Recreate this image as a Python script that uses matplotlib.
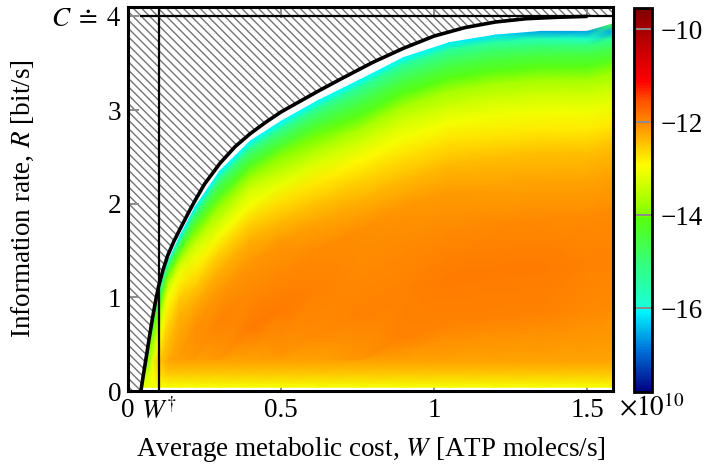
import numpy as np
import matplotlib
matplotlib.use('Agg')
import matplotlib.pyplot as plt
from matplotlib.colors import LinearSegmentedColormap
from matplotlib.patches import Polygon

plt.rcParams['font.family'] = ['Liberation Serif', 'DejaVu Serif']
plt.rcParams['mathtext.fontset'] = 'stix'
plt.rcParams['hatch.linewidth'] = 1.0

# ---------------- data (W in units of 1e10 ATP molecs/s) ----------------
# capacity-cost curve R(W)
curve_W = [0.042, 0.05, 0.06, 0.07, 0.08, 0.09, 0.10, 0.115, 0.13, 0.15, 0.17, 0.20,
           0.22, 0.25, 0.30, 0.35, 0.40, 0.45, 0.50, 0.56, 0.62, 0.70, 0.80, 0.90,
           1.00, 1.10, 1.20, 1.30, 1.40, 1.50]
curve_R = [0.00, 0.17, 0.37, 0.58, 0.78, 0.96, 1.12, 1.30, 1.45, 1.60, 1.73, 1.92,
           2.04, 2.21, 2.43, 2.61, 2.75, 2.87, 2.98, 3.09, 3.20, 3.34, 3.51, 3.66,
           3.79, 3.88, 3.94, 3.975, 3.99, 4.00]
capacity_C = 4.0
W_dagger = 0.10

# heat map: columns in W, rows = depth below the top of the coloured region
heat_W = [0.042, 0.06, 0.08, 0.10, 0.13, 0.17, 0.22, 0.30, 0.40, 0.50, 0.62, 0.75,
          0.90, 1.05, 1.20, 1.35, 1.50, 1.584]
heat_top = [0.00, 0.32, 0.72, 1.05, 1.38, 1.66, 1.97, 2.35, 2.67, 2.88, 3.10, 3.31,
            3.56, 3.72, 3.80, 3.84, 3.84, 3.92]
depth_rows = [0.0, 0.08, 0.16, 0.26, 0.38, 0.52, 0.68, 0.86, 1.06, 1.3, 1.6, 2.0,
              2.5, 3.0, 3.6]
floor_R = 0.32
log_density = [
    [-13.2, -14.0, -15.0, -15.3, -15.8, -16.0, -16.0, -16.0, -16.0, -16.0, -16.0, -16.0, -16.0, -16.1, -16.2, -16.6, -16.6, -14.6],
    [-13.2, -14.0, -14.3, -14.6, -14.6, -14.8, -15.0, -15.2, -15.2, -15.3, -15.3, -15.3, -15.3, -15.3, -15.4, -15.6, -15.8, -16.6],
    [-13.2, -14.0, -13.9, -14.2, -14.0, -14.2, -14.5, -14.6, -14.7, -14.8, -14.8, -14.9, -14.9, -14.9, -14.9, -15.0, -15.0, -15.3],
    [-13.2, -14.0, -13.6, -13.8, -13.4, -13.6, -14.0, -14.2, -14.2, -14.3, -14.4, -14.5, -14.5, -14.5, -14.5, -14.5, -14.5, -14.7],
    [-13.2, -14.0, -13.3, -13.4, -13.0, -13.1, -13.5, -13.8, -13.8, -13.9, -14.0, -14.1, -14.1, -14.1, -14.1, -14.1, -14.1, -14.2],
    [-13.2, -14.0, -13.2, -13.0, -12.8, -12.8, -13.1, -13.4, -13.3, -13.5, -13.6, -13.7, -13.7, -13.7, -13.7, -13.7, -13.7, -13.8],
    [-13.2, -14.0, -13.2, -12.7, -12.6, -12.5, -12.8, -13.0, -13.0, -13.1, -13.2, -13.3, -13.3, -13.35, -13.35, -13.35, -13.35, -13.4],
    [-13.2, -14.0, -13.2, -12.55, -12.45, -12.3, -12.5, -12.6, -12.6, -12.7, -12.8, -12.9, -13.0, -13.0, -13.05, -13.05, -13.05, -13.1],
    [-13.2, -14.0, -13.2, -12.5, -12.3, -12.2, -12.25, -12.3, -12.3, -12.4, -12.5, -12.6, -12.7, -12.7, -12.75, -12.75, -12.75, -12.8],
    [-13.2, -14.0, -13.2, -12.5, -12.25, -12.15, -12.05, -12.1, -12.1, -12.1, -12.2, -12.3, -12.4, -12.4, -12.45, -12.45, -12.45, -12.45],
    [-13.2, -14.0, -13.2, -12.5, -12.25, -12.2, -12.1, -11.95, -12.0, -12.0, -12.0, -12.05, -12.1, -12.15, -12.2, -12.2, -12.2, -12.2],
    [-13.2, -14.0, -13.2, -12.5, -12.25, -12.2, -12.2, -12.1, -11.9, -11.9, -11.95, -12.0, -12.0, -12.0, -12.0, -12.0, -12.0, -12.0],
    [-13.2, -14.0, -13.2, -12.5, -12.25, -12.2, -12.2, -12.2, -12.2, -12.1, -12.0, -11.95, -11.95, -11.9, -11.9, -11.9, -11.95, -11.95],
    [-13.2, -14.0, -13.2, -12.5, -12.25, -12.2, -12.2, -12.2, -12.2, -12.2, -12.2, -12.1, -11.95, -11.95, -11.95, -11.95, -12.0, -12.0],
    [-13.2, -14.0, -13.2, -12.5, -12.25, -12.2, -12.2, -12.2, -12.2, -12.2, -12.2, -12.2, -12.2, -12.2, -12.2, -12.2, -12.2, -12.2],
]
bottom_R = [0.18, 0.04]
bottom_vals = [
    [-13.2, -13.4, -13.0, -12.7] + [-12.5] * 14,
    [-13.2, -13.1] + [-13.0] * 16,
]
cbar_ticks = [-10, -12, -14, -16]
cbar_labels = ['\u221210', '\u221212', '\u221214', '\u221216']
vmin, vmax = -17.8, -9.55
x_ticks = [0, W_dagger, 0.5, 1.0, 1.5]
x_labels = ['0', r'$W^{\dagger}$', '0.5', '1', '1.5']
y_ticks = [0, 1, 2, 3, capacity_C]
y_labels = ['0', '1', '2', '3', r'$C\;\doteq\;4$']
xmax, ytop = 1.584, 4.1

# ---------------- colormap ----------------
cmap = LinearSegmentedColormap.from_list('jetlike', [
    (0.000, (0.00, 0.00, 0.50)),
    (0.110, (0.00, 0.45, 0.85)),
    (0.216, (0.00, 1.00, 1.00)),
    (0.222, (0.10, 1.00, 0.85)),
    (0.330, (0.20, 1.00, 0.50)),
    (0.455, (0.35, 1.00, 0.05)),
    (0.460, (0.50, 1.00, 0.00)),
    (0.590, (1.00, 1.00, 0.00)),
    (0.700, (1.00, 0.55, 0.00)),
    (0.764, (1.00, 0.30, 0.00)),
    (0.810, (1.00, 0.00, 0.00)),
    (0.945, (0.65, 0.00, 0.00)),
    (1.000, (0.50, 0.00, 0.00)),
])

FS = 19.5
fig = plt.figure(figsize=(7.1, 4.67), dpi=100)
ax = fig.add_axes([0.1803, 0.1627, 0.6831, 0.8223])
cax = fig.add_axes([0.893, 0.1606, 0.0254, 0.822])

# hatched infeasible region
hx = [0.0] + curve_W + [xmax, xmax, 0.0]
hy = [0.0] + curve_R + [capacity_C, ytop, ytop]
ax.fill(hx, hy, facecolor='none', edgecolor=(0.45, 0.45, 0.45), hatch='\\\\\\\\',
        linewidth=0, zorder=1)

# heat map mesh
Wn = np.array(heat_W)
topn = np.array(heat_top)
dn = np.array(depth_rows)
Yd = np.maximum(topn[None, :] - dn[:, None], floor_R)
Yb = np.tile(np.array(bottom_R)[:, None], (1, len(Wn)))
Y = np.vstack([Yd, Yb])
X = np.tile(Wn, (Y.shape[0], 1))
Cv = np.vstack([np.array(log_density), np.array(bottom_vals)])
mesh = ax.pcolormesh(X, Y, Cv, shading='gouraud', cmap=cmap, vmin=vmin, vmax=vmax,
                     zorder=2)
clip = Polygon(np.column_stack([curve_W + [xmax, xmax, curve_W[0]],
                                curve_R + [capacity_C, 0.0, 0.0]]),
               closed=True, transform=ax.transData)
mesh.set_clip_path(clip)

# curve and guide lines
ax.plot(curve_W, curve_R, color='black', lw=2.6, zorder=4, solid_capstyle='butt',
        solid_joinstyle='round')
ax.plot([curve_W[0], xmax], [capacity_C, capacity_C], color='black', lw=1.6, zorder=4)
ax.plot([W_dagger, W_dagger], [0, ytop], color='black', lw=1.6, zorder=4)

ax.set_xlim(0, xmax)
ax.set_ylim(0, ytop)
ax.set_xticks(x_ticks)
ax.set_xticklabels(x_labels)
ax.set_yticks(y_ticks)
ax.set_yticklabels(y_labels)
ax.tick_params(direction='in', length=8, width=1.4, color=(0.55, 0.55, 0.55),
               top=True, right=True, labelsize=FS, pad=5)
for s in ax.spines.values():
    s.set_linewidth(2.2)
    s.set_zorder(6)
ax.set_xlabel('Average metabolic cost, $W$ [ATP molecs/s]', fontsize=FS, labelpad=7)
ax.set_ylabel('Information rate, $R$ [bit/s]', fontsize=FS, labelpad=11)
ax.text(1.012, -0.045, r'$\times10^{10}$', transform=ax.transAxes, ha='left',
        va='center', fontsize=FS)

cb = fig.colorbar(mesh, cax=cax)
cb.set_ticks(cbar_ticks)
cb.set_ticklabels(cbar_labels)
cax.tick_params(direction='in', length=13, width=1.4, color=(0.55, 0.55, 0.55),
                labelsize=FS, pad=6)
cb.outline.set_linewidth(2.0)

fig.savefig('out.png', dpi=100)
